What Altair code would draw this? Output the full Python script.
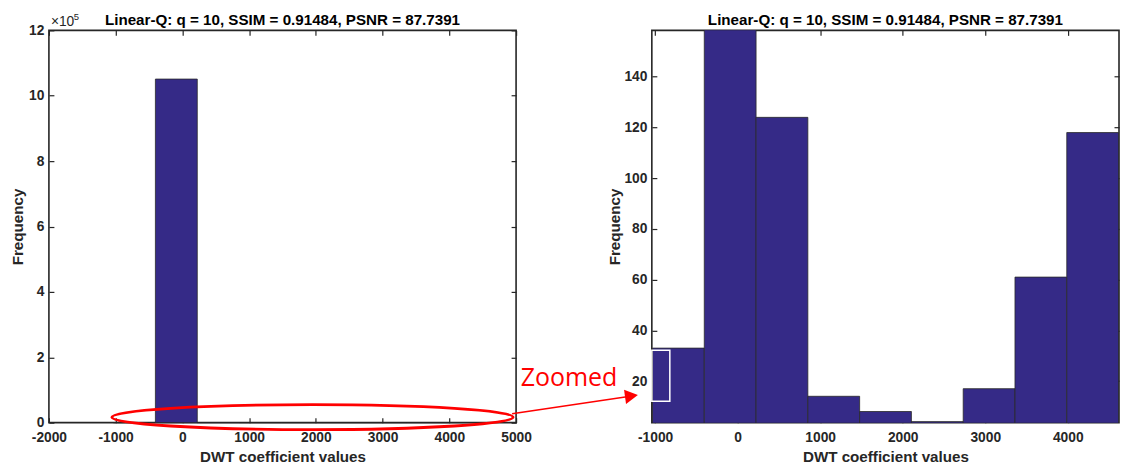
import altair as alt
import pandas as pd

FONT = "Liberation Sans"
INK = "#262626"
BAR = "#352a87"
RED = "#ff0000"

# Histogram of the quantised DWT coefficients: bin edges and counts
bin_lo = [-1032.0, -404.5, 223.0, 850.5, 1478.0, 2105.5, 2733.0, 3360.5, 3988.0]
bin_hi = [-404.5, 223.0, 850.5, 1478.0, 2105.5, 2733.0, 3360.5, 3988.0, 4615.5]
freq = [33, 1051000, 124, 14, 8, 4, 17, 61, 118]

# Axis ranges and tick positions of the full view and of the zoomed view
full_x_domain = [-2000, 5000]
full_y_domain = [0, 1200000]
full_x_ticks = [-2000, -1000, 0, 1000, 2000, 3000, 4000, 5000]
full_y_ticks = [0, 200000, 400000, 600000, 800000, 1000000, 1200000]

zoom_x_domain = [-1040, 4621]
zoom_y_domain = [3.6, 158.3]
zoom_x_ticks = [-1000, 0, 1000, 2000, 3000, 4000]
zoom_y_ticks = [20, 40, 60, 80, 100, 120, 140]

title_text = "Linear-Q: q = 10, SSIM = 0.91484, PSNR = 87.7391"
x_title = "DWT coefficient values"
y_title = "Frequency"

# Annotation of the full view: ellipse round the low counts, arrow and label
ellipse_x, ellipse_y = [1949], [16800]
arrow_x, arrow_y, arrow_x2, arrow_y2 = [4940], [27480], [6660], [79390]
arrowhead_x, arrowhead_y = [6729], [81830]
label_x, label_y = [5070], [110840]
label_text = ["Zoomed"]

# Outline drawn inside the zoomed view (x0, x1, y0, y1)
box_x, box_x2, box_y, box_y2 = [-1040], [-822], [12.0], [32.2]

hist = pd.DataFrame({"lo": bin_lo, "hi": bin_hi, "n": freq})

W, H = 468, 393
ELLIPSE = "M -1 0 A 1 0.0622 0 1 1 1 0 A 1 0.0622 0 1 1 -1 0 Z"
ARROWHEAD = "M -1 -1.1 L 1 0 L -1 1.1 Z"


def axis(**kw):
    base = dict(
        domain=False, grid=False, offset=-5, tickSize=5, tickWidth=1.2,
        tickColor=INK, labelFont=FONT, labelFontSize=13.8,
        labelFontWeight="bold", labelColor=INK, labelFlush=False,
        labelOverlap=False, titleFont=FONT, titleFontSize=15.2,
        titleFontWeight="bold", titleColor=INK,
    )
    base.update(kw)
    return alt.Axis(**base)


def panel(x_dom, y_dom, x_ticks, y_ticks, y_expr, y_title_pad, clip):
    xs = alt.Scale(domain=x_dom, nice=False, zero=False)
    ys = alt.Scale(domain=y_dom, nice=False, zero=False)

    bars = alt.Chart(hist).mark_rect(
        fill=BAR, stroke="#2a2a2a", strokeWidth=0.8, clip=clip
    ).encode(
        x=alt.X("lo:Q", scale=xs, axis=axis(
            values=x_ticks, labelExpr="'' + datum.value", labelPadding=8,
            title=x_title, titlePadding=5)),
        x2="hi:Q",
        y=alt.Y("n:Q", scale=ys, axis=axis(
            values=y_ticks, labelExpr=y_expr, labelPadding=5,
            title=y_title, titlePadding=y_title_pad)),
        y2=alt.datum(0),
    )

    # box ticks on the top and right edges
    top = alt.Chart(pd.DataFrame({"v": x_ticks})).mark_rule(opacity=0).encode(
        x=alt.X("v:Q", scale=xs, axis=axis(orient="top", values=x_ticks,
                                           labels=False, title=None)),
    )
    right = alt.Chart(pd.DataFrame({"v": y_ticks})).mark_rule(opacity=0).encode(
        y=alt.Y("v:Q", scale=ys, axis=axis(orient="right", values=y_ticks,
                                           labels=False, title=None)),
    )

    # panel heading, centred over the plot
    heading = alt.Chart(pd.DataFrame({"t": [title_text]})).mark_text(
        font=FONT, fontSize=15.2, fontWeight="bold", color="black",
        align="center", baseline="alphabetic"
    ).encode(x=alt.value(W / 2), y=alt.value(-5), text="t:N")
    return bars, top, right, heading, xs, ys


# ---- full view ----
bars, top, right, heading, xs, ys = panel(
    full_x_domain, full_y_domain, full_x_ticks, full_y_ticks,
    "datum.value / 100000", 3, False)

# keeps the outer margins of the page fixed
frame = alt.Chart(pd.DataFrame({"a": [0]})).mark_rect(opacity=0).encode(
    x=alt.value(-48), x2=alt.value(W), y=alt.value(-29), y2=alt.value(438)
)

corner = pd.DataFrame({"x": [full_x_domain[0]], "y": [full_y_domain[1]]})
exp_base = alt.Chart(corner).mark_text(
    text="\u00d710", font=FONT, fontSize=13.8, color=INK, align="left",
    baseline="alphabetic", dx=2, dy=-4
).encode(x=alt.X("x:Q", scale=xs, axis=None), y=alt.Y("y:Q", scale=ys, axis=None))
exp_pow = alt.Chart(corner).mark_text(
    text="5", font=FONT, fontSize=9.5, color=INK, align="left",
    baseline="alphabetic", dx=25, dy=-10.5
).encode(x=alt.X("x:Q", scale=xs, axis=None), y=alt.Y("y:Q", scale=ys, axis=None))

ellipse = alt.Chart(pd.DataFrame({"x": ellipse_x, "y": ellipse_y})).mark_point(
    shape=ELLIPSE, size=161604, filled=False, color=RED, strokeWidth=2.8, opacity=1
).encode(x=alt.X("x:Q", scale=xs, axis=None), y=alt.Y("y:Q", scale=ys, axis=None))

arrow = alt.Chart(pd.DataFrame({"x": arrow_x, "y": arrow_y,
                                "x2": arrow_x2, "y2": arrow_y2})).mark_rule(
    color=RED, strokeWidth=1.5
).encode(x=alt.X("x:Q", scale=xs, axis=None), y=alt.Y("y:Q", scale=ys, axis=None),
         x2="x2:Q", y2="y2:Q")

head = alt.Chart(pd.DataFrame({"x": arrowhead_x, "y": arrowhead_y})).mark_point(
    shape=ARROWHEAD, size=169, filled=True, color=RED, angle=352, opacity=1
).encode(x=alt.X("x:Q", scale=xs, axis=None), y=alt.Y("y:Q", scale=ys, axis=None))

label = alt.Chart(pd.DataFrame({"x": label_x, "y": label_y, "t": label_text})).mark_text(
    font="Open Sans", fontSize=25, color=RED, align="left", baseline="alphabetic"
).encode(x=alt.X("x:Q", scale=xs, axis=None), y=alt.Y("y:Q", scale=ys, axis=None),
         text="t:N")

full_view = alt.layer(
    frame, bars, top, right, heading, exp_base, exp_pow, ellipse, arrow, head, label
).resolve_axis(x="independent", y="independent").properties(width=W, height=H)

# ---- zoomed view ----
zbars, ztop, zright, zheading, zxs, zys = panel(
    zoom_x_domain, zoom_y_domain, zoom_x_ticks, zoom_y_ticks,
    "'' + datum.value", 1, True)

box = alt.Chart(pd.DataFrame({"x": box_x, "x2": box_x2,
                              "y": box_y, "y2": box_y2})).mark_rect(
    fillOpacity=0, stroke="white", strokeWidth=1.5
).encode(x=alt.X("x:Q", scale=zxs, axis=None), x2="x2:Q",
         y=alt.Y("y:Q", scale=zys, axis=None), y2="y2:Q")

zoom_view = alt.layer(zbars, ztop, zright, box, zheading).resolve_axis(
    x="independent", y="independent"
).properties(width=W, height=H)

chart = alt.hconcat(full_view, zoom_view, spacing=136, bounds="flush").properties(
    padding=0, background="white"
).configure_view(stroke=INK, strokeWidth=1.6)

chart.save("out.html", embed_options={"renderer": "svg", "actions": False})
